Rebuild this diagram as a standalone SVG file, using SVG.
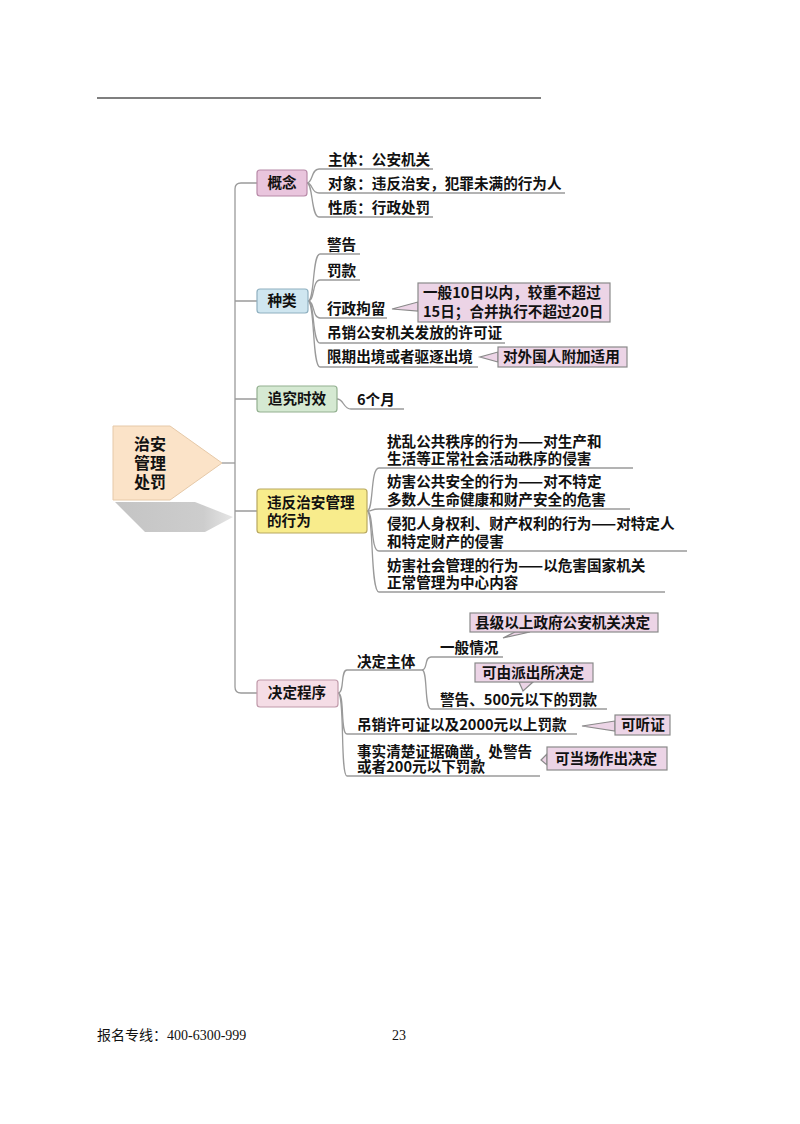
<svg xmlns="http://www.w3.org/2000/svg" width="800" height="1124" viewBox="0 0 800 1124">
<style>
.t{font-family:"Noto Sans CJK SC","Liberation Sans",sans-serif;font-size:14.6px;font-weight:bold;fill:#111}
.r{font-family:"Noto Sans CJK SC","Liberation Sans",sans-serif;font-size:16px;font-weight:bold;fill:#111}
.c{fill:none;stroke:#9a9a9a;stroke-width:1.3}
.co{fill:#ecd4e6;stroke:#8a8a8a;stroke-width:1.2}
.f{font-family:"Liberation Serif","Noto Sans CJK SC",serif;font-size:14px;fill:#111}
</style>
<defs>
<linearGradient id="sh" x1="0" y1="0" x2="1" y2="0">
<stop offset="0" stop-color="#c4c4c4"/>
<stop offset="0.75" stop-color="#cdcdcd"/>
<stop offset="1" stop-color="#e6e6e6"/>
</linearGradient>
</defs>
<rect width="800" height="1124" fill="#fff"/>
<line x1="97" y1="98" x2="541" y2="98" stroke="#000" stroke-width="1.2"/>

<g id="connectors">
<path class="c" d="M222,463 H235"/>
<path class="c" d="M257,183 H241 Q235,183 235,189 V687 Q235,693 241,693 H257"/>
<path class="c" d="M235,301 H257 M235,399 H257 M235,511 H257"/>
<path class="c" d="M307,183 C313,183 311,169 319,169 H433"/>
<path class="c" d="M307,183 C313,183 311,193 319,193 H565"/>
<path class="c" d="M307,183 C313,183 311,217 319,217 H433"/>
<path class="c" d="M308,301 C315,301 312,254 320,254 H360"/>
<path class="c" d="M308,301 C315,301 312,280 320,280 H360"/>
<path class="c" d="M308,301 C315,301 312,318 320,318 H387"/>
<path class="c" d="M308,301 C315,301 312,343 320,343 H505"/>
<path class="c" d="M308,301 C315,301 312,367 320,367 H478"/>
<path class="c" d="M337,399 C344,399 343,409 351,409 H404"/>
<path class="c" d="M367,511 C374,511 370,468 379,468 H633"/>
<path class="c" d="M367,511 C374,511 370,509 379,509 H630"/>
<path class="c" d="M367,511 C374,511 370,551 379,551 H687"/>
<path class="c" d="M367,511 C374,511 370,592 379,592 H665"/>
<path class="c" d="M338,693 C345,693 340,670 347,670 H422"/>
<path class="c" d="M338,693 C345,693 340,734 347,734 H577"/>
<path class="c" d="M338,693 C345,693 340,776 347,776 H540"/>
<path class="c" d="M422,670 C428,670 424,657 431,657 H503"/>
<path class="c" d="M422,670 C428,670 424,709 431,709 H607"/>
</g>

<g id="root">
<polygon points="115,502 195,502 233,517 205,532 145,532" fill="url(#sh)"/>
<polygon points="113,426 170,426 222,463 170,500 113,500" fill="#fbe3c8" stroke="#e6c9a8" stroke-width="1"/>
<text class="r" text-anchor="middle"><tspan x="150" y="450">治安</tspan><tspan x="150" y="469">管理</tspan><tspan x="150" y="488">处罚</tspan></text>
</g>

<g id="n-gainian">
<rect x="257" y="170" width="50" height="26" rx="3" fill="#e9c5dd" stroke="#b88aa8" stroke-width="1.2"/>
<text class="t" x="282" y="188" text-anchor="middle">概念</text>
</g>
<g id="gainian-items">
<text class="t" x="328" y="165">主体：公安机关</text>
<text class="t" x="328" y="189">对象：违反治安，犯罪未满的行为人</text>
<text class="t" x="328" y="213">性质：行政处罚</text>
</g>

<g id="n-zhonglei">
<rect x="257" y="289" width="51" height="24" rx="3" fill="#cfe6f0" stroke="#8fb0c0" stroke-width="1.2"/>
<text class="t" x="282" y="306" text-anchor="middle">种类</text>
</g>
<g id="zhonglei-items">
<text class="t" x="327" y="250">警告</text>
<text class="t" x="327" y="276">罚款</text>
<text class="t" x="327" y="314">行政拘留</text>
<text class="t" x="327" y="338">吊销公安机关发放的许可证</text>
<text class="t" x="327" y="362">限期出境或者驱逐出境</text>
</g>
<g id="callout-juliu">
<polygon class="co" points="418,302 392,309 418,311"/>
<rect class="co" x="418" y="283" width="192" height="39"/>
<text class="t"><tspan x="423" y="298">一般10日以内，较重不超过</tspan><tspan x="423" y="317">15日；合并执行不超过20日</tspan></text>
</g>
<g id="callout-waiguo">
<polygon class="co" points="498,352 480,357 498,362"/>
<rect class="co" x="498" y="347" width="129" height="20"/>
<text class="t" x="503" y="362">对外国人附加适用</text>
</g>

<g id="n-shixiao">
<rect x="257" y="386" width="80" height="26" rx="3" fill="#d5e9d2" stroke="#93b090" stroke-width="1.2"/>
<text class="t" x="297" y="404" text-anchor="middle">追究时效</text>
</g>
<text class="t" x="357" y="405">6个月</text>

<g id="n-weifan">
<rect x="257" y="489" width="110" height="44" rx="3" fill="#f8ec8c" stroke="#b8a860" stroke-width="1.2"/>
<text class="t"><tspan x="267" y="508">违反治安管理</tspan><tspan x="267" y="526">的行为</tspan></text>
</g>
<g id="weifan-items">
<text class="t"><tspan x="387" y="447">扰乱公共秩序的行为——对生产和</tspan><tspan x="387" y="464">生活等正常社会活动秩序的侵害</tspan></text>
<text class="t"><tspan x="387" y="487">妨害公共安全的行为——对不特定</tspan><tspan x="387" y="505">多数人生命健康和财产安全的危害</tspan></text>
<text class="t"><tspan x="387" y="529">侵犯人身权利、财产权利的行为——对特定人</tspan><tspan x="387" y="547">和特定财产的侵害</tspan></text>
<text class="t"><tspan x="387" y="571">妨害社会管理的行为——以危害国家机关</tspan><tspan x="387" y="588">正常管理为中心内容</tspan></text>
</g>

<g id="n-chengxu">
<rect x="257" y="680" width="81" height="27" rx="3" fill="#f5dde6" stroke="#c09aaa" stroke-width="1.2"/>
<text class="t" x="297" y="698" text-anchor="middle">决定程序</text>
</g>
<g id="chengxu-items">
<text class="t" x="357" y="667">决定主体</text>
<text class="t" x="440" y="653">一般情况</text>
<text class="t" x="440" y="705">警告、500元以下的罚款</text>
<text class="t" x="357" y="730">吊销许可证以及2000元以上罚款</text>
<text class="t"><tspan x="357" y="757">事实清楚证据确凿，处警告</tspan><tspan x="357" y="772">或者200元以下罚款</tspan></text>
</g>
<g id="callout-xianji">
<polygon class="co" points="515,632 503,638 530,632"/>
<rect class="co" x="470" y="613" width="188" height="19"/>
<text class="t" x="475" y="628">县级以上政府公安机关决定</text>
</g>
<g id="callout-paichusuo">
<polygon class="co" points="519,682 523,691 533,682"/>
<rect class="co" x="475" y="663" width="118" height="19"/>
<text class="t" x="482" y="678">可由派出所决定</text>
</g>
<g id="callout-tingzheng">
<polygon class="co" points="615,721 582,726 615,731"/>
<rect class="co" x="615" y="715" width="55" height="20"/>
<text class="t" x="621" y="730">可听证</text>
</g>
<g id="callout-dangchang">
<polygon class="co" points="547,754 541,760 547,765"/>
<rect class="co" x="547" y="747" width="120" height="23"/>
<text class="t" x="555" y="764">可当场作出决定</text>
</g>

<g id="footer">
<text class="f" x="97" y="1040">报名专线：400-6300-999</text>
<text class="f" x="392" y="1040">23</text>
</g>
</svg>
